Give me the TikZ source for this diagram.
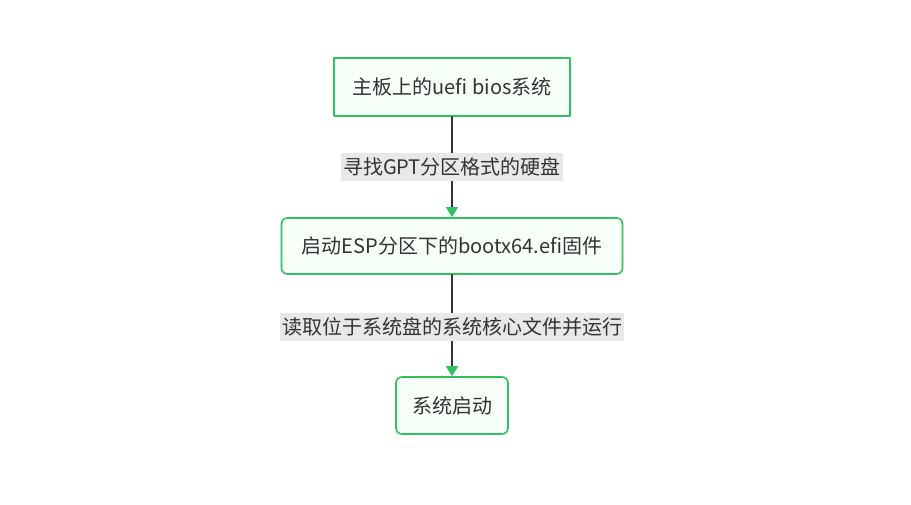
\documentclass[tikz,border=0pt]{standalone}
\usepackage{fontspec}
\setmainfont{Noto Sans CJK SC}
\usetikzlibrary{arrows.meta}
\definecolor{boxgreen}{HTML}{2FC25F}
\definecolor{boxfill}{HTML}{F7FFF9}
\definecolor{linegray}{HTML}{333333}
\definecolor{lblgray}{HTML}{E8E8E8}
\begin{document}
\begin{tikzpicture}[x=1pt, y=-1pt, font=\fontsize{20}{24}\selectfont, line join=round, line cap=round,
box/.style={draw=boxgreen, line width=1.6pt, fill=boxfill, text=linegray, inner sep=0pt},
lbl/.style={fill=lblgray, text=linegray, inner sep=2pt, minimum height=28},
flow/.style={draw=linegray, line width=1.3pt, -{Triangle[length=10pt, width=12pt, color=boxgreen]}}]
\useasboundingbox (0,0) rectangle (911,504);
\node[box, minimum width=236, minimum height=58] (bios) at (452,87) {主板上的uefi bios系统};
\node[box, rounded corners=6pt, minimum width=341, minimum height=56] (efi) at (452,246) {启动ESP分区下的bootx64.efi固件};
\node[box, rounded corners=6pt, minimum width=112, minimum height=57] (boot) at (452,405.5) {系统启动};
\draw[flow] (bios) -- node[lbl]{寻找GPT分区格式的硬盘} (efi);
\draw[flow] (efi) -- node[lbl, yshift=-1.5pt]{读取位于系统盘的系统核心文件并运行} (boot);
\end{tikzpicture}
\end{document}
